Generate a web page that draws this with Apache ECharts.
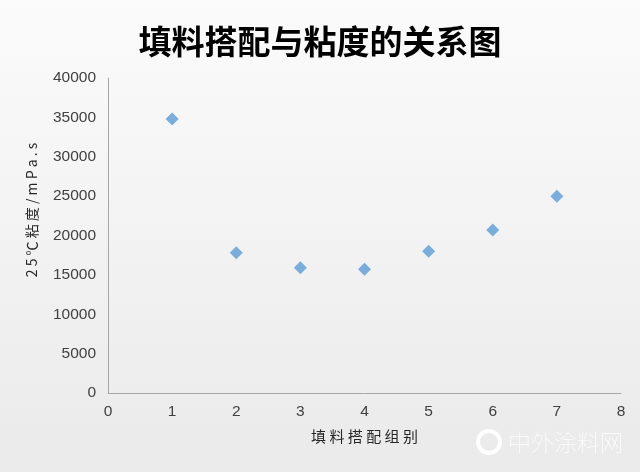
<!DOCTYPE html>
<html><head><meta charset="utf-8">
<script src="https://cdn.jsdelivr.net/npm/echarts@6/dist/echarts.min.js"></script>
<style>html,body{margin:0;padding:0;}#c{width:640px;height:472px;}</style>
</head><body><div id="c"></div>
<script>
const groups = [1, 2, 3, 4, 5, 6, 7];
const viscosity = [34800, 17800, 15900, 15700, 18000, 20700, 25000];
const titleText = '填料搭配与粘度的关系图';
const xName = '填 料 搭 配 组 别';
const yName = '2 5 ℃ 粘 度 / m P a . s';

const chart = echarts.init(document.getElementById('c'));
chart.setOption({
  backgroundColor: new echarts.graphic.LinearGradient(0,0,0,1,[{offset:0,color:'#fbfbfb'},{offset:1,color:'#eaeaea'}]),
  title: {
    text: titleText, left: 'center', top: 20,
    textStyle: {fontSize: 33, fontWeight: 'bold', color: '#000', fontFamily: 'Noto Sans CJK SC'}
  },
  grid: {left: 108, right: 19, top: 78, bottom: 79},
  xAxis: {
    type: 'value', min: 0, max: 8, interval: 1,
    name: xName, nameLocation: 'middle', nameGap: 36,
    nameTextStyle: {fontSize: 15, color: '#262626', fontFamily: 'Noto Sans CJK SC'},
    axisLine: {show: true, lineStyle: {color: '#a6a6a6', width: 1}},
    axisTick: {show: false},
    splitLine: {show: false},
    axisLabel: {fontSize: 15.5, color: '#404040', fontFamily: 'Liberation Sans', margin: 11}
  },
  yAxis: {
    type: 'value', min: 0, max: 40000, interval: 5000,
    axisLine: {show: true, lineStyle: {color: '#a6a6a6', width: 1}},
    axisTick: {show: false},
    splitLine: {show: false},
    axisLabel: {fontSize: 15.5, color: '#404040', fontFamily: 'Liberation Sans', margin: 12,
      formatter: v => String(v)}
  },
  series: [{
    type: 'scatter', symbol: 'diamond', symbolSize: 13,
    itemStyle: {color: '#5b9bd5'},
    data: groups.map((g, i) => [g, viscosity[i]])
  }],
  graphic: [
    {
      type: 'text', x: 32, y: 210, rotation: Math.PI / 2,
      style: {text: yName, fontSize: 14, fill: '#262626', fontFamily: 'Noto Sans CJK SC',
        align: 'center', verticalAlign: 'middle'}
    },
    {
      type: 'circle', shape: {cx: 489, cy: 442, r: 11},
      style: {fill: 'none', stroke: 'rgba(255,255,255,0.95)', lineWidth: 4}
    },
    {
      type: 'text', x: 508, y: 442,
      style: {text: '中外涂料网', fontSize: 23, fill: 'rgba(255,255,255,0.95)', fontWeight: 'lighter',
        fontFamily: 'Noto Sans CJK SC', verticalAlign: 'middle'}
    }
  ]
});
</script></body></html>
